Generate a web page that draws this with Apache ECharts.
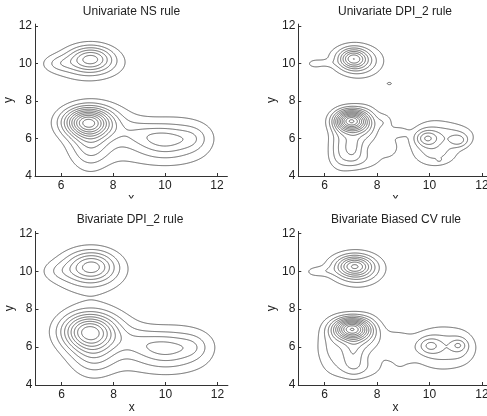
<!DOCTYPE html>
<html><head><meta charset="utf-8">
<script src="https://cdn.jsdelivr.net/npm/echarts@6/dist/echarts.min.js"></script>
<style>html,body{margin:0;padding:0;background:#fff}#c{width:487px;height:416px}</style>
</head><body><div id="c"></div>
<script>
// ---------- chart data ----------
const panelTitles = ['Univariate NS rule', 'Univariate DPI_2 rule', 'Bivariate DPI_2 rule', 'Bivariate Biased CV rule'];
const xTicks = [6, 8, 10, 12];
const yTicks = [4, 6, 8, 10, 12];
const xRange = [5, 12.4];
const yRange = [4, 12.1];
const contourLevels = [1, 2, 3, 4, 5, 6, 7, 8, 9, 10, 11, 12, 13, 14];
// density estimate read from the picture as bumps: [height, meanX, meanY, sdX, sdY, corr]
const nsBumps = [
  [4.9, 7.15, 10.28, 0.58, 0.47, 0], [2.0, 7.0, 9.9, 1.0, 0.6, 0], [1.3, 5.9, 10.0, 0.4, 0.3, 0],
  [9.2, 7.02, 6.88, 0.62, 0.52, 0], [2.5, 7.1, 5.6, 0.5, 0.9, 0], [2.0, 7.6, 6.4, 1.0, 1.0, 0],
  [1.0, 8.9, 6.3, 0.6, 0.45, 0],
  [2.8, 9.95, 5.95, 0.75, 0.5, 0], [1.6, 10.5, 6.1, 1.1, 0.9, 0], [1.0, 11.1, 6.0, 0.4, 0.45, 0],
  [0.9, 9.8, 5.0, 1.2, 0.5, 0]
];
const dpiUniBumps = [
  [5.0, 7.08, 10.27, 0.36, 0.36, 0], [2.4, 7.35, 10.05, 0.55, 0.55, 0], [1.0, 7.0, 10.3, 0.9, 0.6, 0],
  [1.2, 5.62, 9.98, 0.18, 0.14, 0], [0.8, 6.0, 10.02, 0.3, 0.13, 0], [1.35, 8.47, 8.93, 0.09, 0.07, 0],
  [11.0, 7.0, 6.95, 0.42, 0.4, 0], [2.2, 7.1, 5.6, 0.25, 0.55, 0], [2.2, 7.6, 6.6, 0.35, 0.7, 0],
  [1.4, 7.3, 4.85, 0.65, 0.4, 0], [1.2, 7.1, 5.8, 0.6, 0.8, 0], [2.0, 6.6, 5.6, 0.3, 0.8, 0],
  [1.0, 8.3, 6.9, 0.2, 0.3, 0], [1.1, 8.85, 6.35, 0.25, 0.2, 0], [0.9, 8.5, 5.5, 0.25, 0.4, 0],
  [0.6, 8.3, 6.2, 0.4, 0.8, 0],
  [3.0, 9.88, 6.02, 0.3, 0.3, 0], [2.0, 10.1, 5.9, 0.6, 0.8, 0], [2.0, 11.13, 5.88, 0.25, 0.25, 0],
  [1.5, 11.0, 6.2, 0.6, 0.45, 0], [1.1, 10.3, 5.1, 0.6, 0.45, 0], [0.7, 10.37, 4.85, 0.07, 0.07, 0]
];
const dpiBiBumps = [
  [4.6, 7.17, 10.27, 0.62, 0.55, 0], [2.2, 7.0, 9.95, 1.0, 0.8, 0], [0.9, 5.9, 10.0, 0.45, 0.35, 0],
  [7.5, 7.03, 6.85, 0.7, 0.65, 0], [2.2, 7.2, 5.6, 0.6, 0.85, 0], [2.0, 7.6, 6.5, 1.0, 1.0, 0],
  [1.0, 8.9, 6.3, 0.6, 0.5, 0],
  [2.7, 9.95, 5.95, 0.8, 0.52, 0], [1.6, 10.5, 6.1, 1.1, 0.9, 0], [0.9, 11.1, 6.0, 0.4, 0.45, 0],
  [0.9, 9.8, 5.0, 1.2, 0.5, 0]
];
const cvBumps = [
  [5.0, 7.12, 10.28, 0.45, 0.36, 0], [2.4, 7.3, 10.05, 0.6, 0.58, 0], [1.1, 7.0, 10.2, 0.9, 0.6, 0],
  [1.0, 5.6, 9.97, 0.22, 0.16, 0], [0.8, 6.0, 10.0, 0.3, 0.18, 0],
  [10.5, 7.02, 6.97, 0.47, 0.4, 0], [2.0, 7.1, 5.75, 0.28, 0.7, 0], [2.0, 7.65, 6.6, 0.38, 0.7, 0],
  [1.4, 7.3, 4.85, 0.65, 0.4, 0], [1.2, 7.1, 5.8, 0.65, 0.8, 0], [1.8, 6.3, 6.0, 0.45, 0.9, 0],
  [1.3, 8.7, 6.1, 0.45, 0.65, 0], [0.6, 9.0, 5.5, 0.3, 0.35, 0], [0.5, 8.87, 5.15, 0.12, 0.15, 0],
  [2.2, 10.0, 6.08, 0.3, 0.3, 0], [1.5, 11.1, 6.1, 0.2, 0.2, 0], [2.6, 10.5, 5.95, 0.85, 0.8, 0],
  [0.8, 11.2, 6.0, 0.3, 0.5, 0]
];
const panelBumps = [nsBumps, dpiUniBumps, dpiBiBumps, cvBumps];

// ---------- density + contours ----------
function density(bumps, x, y) {
  let s = 0;
  for (const [h, mx, my, sx, sy, r] of bumps) {
    const u = (x - mx) / sx, v = (y - my) / sy;
    const q = (u * u - 2 * r * u * v + v * v) / (1 - r * r);
    if (q < 40) s += h * Math.exp(-0.5 * q);
  }
  return s;
}
function contourPaths(bumps, levels) {
  const step = 0.025;
  const nx = Math.round((xRange[1] - xRange[0]) / step) + 1;
  const ny = Math.round((yRange[1] - yRange[0]) / step) + 1;
  const xs = [], ys = [];
  for (let i = 0; i < nx; i++) xs.push(xRange[0] + i * step);
  for (let j = 0; j < ny; j++) ys.push(yRange[0] + j * step);
  const g = new Float64Array(nx * ny);
  for (let j = 0; j < ny; j++) for (let i = 0; i < nx; i++) g[j * nx + i] = density(bumps, xs[i], ys[j]);
  const V = nx * ny;
  const paths = [];
  for (const L of levels) {
    const adj = new Map(), pt = new Map();
    const hPoint = (i, j) => { const id = j * nx + i; if (!pt.has(id)) { const a = g[j * nx + i], b = g[j * nx + i + 1]; const t = (L - a) / (b - a); pt.set(id, [xs[i] + t * step, ys[j]]); } return id; };
    const vPoint = (i, j) => { const id = V + j * nx + i; if (!pt.has(id)) { const a = g[j * nx + i], b = g[(j + 1) * nx + i]; const t = (L - a) / (b - a); pt.set(id, [xs[i], ys[j] + t * step]); } return id; };
    const link = (a, b) => { if (!adj.has(a)) adj.set(a, []); if (!adj.has(b)) adj.set(b, []); adj.get(a).push(b); adj.get(b).push(a); };
    for (let j = 0; j < ny - 1; j++) for (let i = 0; i < nx - 1; i++) {
      const v0 = g[j * nx + i], v1 = g[j * nx + i + 1], v2 = g[(j + 1) * nx + i + 1], v3 = g[(j + 1) * nx + i];
      const b0 = v0 >= L, b1 = v1 >= L, b2 = v2 >= L, b3 = v3 >= L;
      const e = [];
      if (b0 !== b1) e[0] = hPoint(i, j);
      if (b1 !== b2) e[1] = vPoint(i + 1, j);
      if (b3 !== b2) e[2] = hPoint(i, j + 1);
      if (b0 !== b3) e[3] = vPoint(i, j);
      const list = [0, 1, 2, 3].filter(k => e[k] !== undefined);
      if (list.length === 2) link(e[list[0]], e[list[1]]);
      else if (list.length === 4) {
        const c = ((v0 + v1 + v2 + v3) / 4) >= L;
        if (c === b0) { link(e[0], e[1]); link(e[2], e[3]); }
        else { link(e[0], e[3]); link(e[1], e[2]); }
      }
    }
    const visited = new Set();
    const walk = (start) => {
      const path = [pt.get(start)]; visited.add(start); let cur = start;
      while (true) {
        const nb = adj.get(cur); let next;
        for (const n of nb) if (!visited.has(n)) { next = n; break; }
        if (next === undefined) { if (nb.includes(start) && path.length > 2) path.push(pt.get(start)); break; }
        visited.add(next); path.push(pt.get(next)); cur = next;
      }
      return path;
    };
    for (const [id, nb] of adj) if (nb.length === 1 && !visited.has(id)) paths.push(walk(id));
    for (const [id] of adj) if (!visited.has(id)) paths.push(walk(id));
  }
  return paths;
}

// ---------- layout ----------
const grids = [
  { left: 35, top: 24.1, width: 192.4, height: 151.9 },
  { left: 298.3, top: 24.1, width: 194.2, height: 151.9 },
  { left: 35.5, top: 231.4, width: 192.4, height: 153.6 },
  { left: 298.3, top: 231.4, width: 194.2, height: 153.6 }
];
const titlePos = [[131.5, 12], [395, 12], [130, 220], [396, 220]];
const textColor = '#222';
const axisCommon = {
  axisLine: { show: true, lineStyle: { color: '#333', width: 1 } },
  axisTick: { show: true, inside: true, length: 3, lineStyle: { color: '#333' } },
  splitLine: { show: false },
  nameTextStyle: { color: textColor, fontSize: 12, fontFamily: 'Liberation Sans' }
};
const option = {
  backgroundColor: '#fff', animation: false,
  grid: grids.map(g => Object.assign({ containLabel: false, outerBoundsMode: 'none' }, g)),
  xAxis: grids.map((g, k) => Object.assign({}, axisCommon, {
    gridIndex: k, type: 'value', min: xRange[0], max: xRange[1],
    name: 'x', nameLocation: 'middle', nameGap: 15,
    axisTick: Object.assign({}, axisCommon.axisTick, { customValues: xTicks }),
    axisLabel: { customValues: xTicks, color: textColor, fontSize: 12, fontFamily: 'Liberation Sans', margin: 4 }
  })),
  yAxis: grids.map((g, k) => Object.assign({}, axisCommon, {
    gridIndex: k, type: 'value', min: yRange[0], max: yRange[1],
    name: 'y', nameLocation: 'middle', nameGap: 15,
    axisTick: Object.assign({}, axisCommon.axisTick, { customValues: yTicks }),
    axisLabel: { customValues: yTicks, color: textColor, fontSize: 12, fontFamily: 'Liberation Sans', margin: 3 }
  })),
  series: panelBumps.map((b, k) => ({
    type: 'lines', coordinateSystem: 'cartesian2d', xAxisIndex: k, yAxisIndex: k,
    polyline: true, silent: true, animation: false,
    lineStyle: { color: '#606060', width: 1, opacity: 1 },
    data: contourPaths(b, contourLevels).map(p => ({ coords: p }))
  })),
  graphic: [
    { type: 'rect', shape: { x: 0, y: 198.5, width: 487, height: 9 }, style: { fill: '#fff' }, z: 100 }
  ].concat(panelTitles.map((t, k) => ({
    type: 'text', x: titlePos[k][0], y: titlePos[k][1], z: 101,
    style: { text: t, fill: textColor, font: '12px "Liberation Sans"', textAlign: 'center', textVerticalAlign: 'middle' }
  })))
};
echarts.init(document.getElementById('c'), null, { renderer: 'canvas' }).setOption(option);
</script></body></html>
